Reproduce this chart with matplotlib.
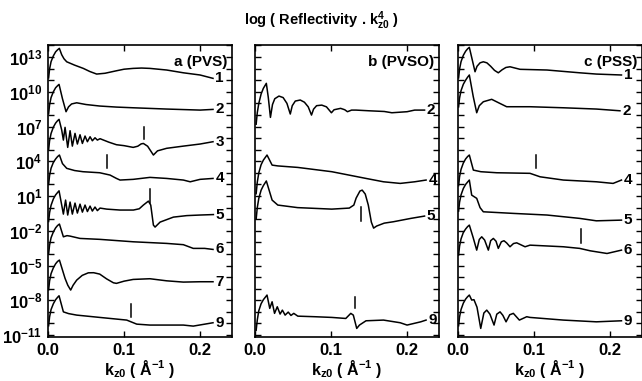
import numpy as np
import matplotlib.pyplot as plt
from matplotlib.ticker import FixedLocator, FuncFormatter

plt.rcParams["font.family"] = ["Liberation Sans", "DejaVu Sans"]
plt.rcParams["font.weight"] = "bold"
plt.rcParams["mathtext.fontset"] = "custom"
plt.rcParams["mathtext.rm"] = "Liberation Sans:bold"
plt.rcParams["mathtext.bf"] = "Liberation Sans:bold"
plt.rcParams["mathtext.it"] = "Liberation Sans:bold"
plt.rcParams["mathtext.default"] = "bf"

# curves: k_z0 (1/A) and log10(R.k^4) incl. vertical offsets
# ---- panel a (PVS)
a1_k = [0.0008, 0.002, 0.004, 0.007, 0.010, 0.0125, 0.0149, 0.018, 0.021, 0.0246, 0.035, 0.0464, 0.055,
        0.064, 0.075, 0.0904, 0.1, 0.112, 0.123, 0.134, 0.156, 0.178, 0.2, 0.217]
a1_y = [11.2, 11.95, 12.6, 13.1, 13.45, 13.62, 13.75, 13.2, 12.85, 12.59, 12.3, 12.02, 11.75,
        11.53, 11.6, 11.82, 11.95, 12.02, 12.05, 12.02, 11.88, 11.64, 11.45, 11.16]
a2_k = [0.0008, 0.002, 0.004, 0.007, 0.010, 0.0125, 0.0145, 0.019, 0.0237, 0.027, 0.031, 0.0377, 0.05,
        0.068, 0.09, 0.112, 0.156, 0.2, 0.217]
a2_y = [8.1, 8.85, 9.5, 10.0, 10.35, 10.52, 10.64, 9.4, 8.28, 8.7, 8.95, 9.05, 8.9,
        8.77, 8.68, 8.62, 8.51, 8.42, 8.48]
a3_k = [0.0008, 0.002, 0.004, 0.007, 0.010, 0.0125, 0.0145, 0.018, 0.0202, 0.0224, 0.0259, 0.029, 0.032,
        0.0355, 0.0386, 0.0421, 0.0452, 0.0487, 0.0518, 0.0553, 0.0583, 0.0618, 0.0649, 0.0684, 0.08,
        0.09, 0.1, 0.112, 0.118, 0.1225, 0.1254, 0.131, 0.1386, 0.144, 0.156, 0.178, 0.2, 0.217]
a3_y = [5.0, 5.75, 6.4, 6.95, 7.3, 7.5, 7.62, 6.70, 5.83, 6.93, 5.20, 6.64, 5.31,
        6.41, 5.49, 6.29, 5.54, 6.18, 5.69, 6.12, 5.77, 6.03, 5.83, 5.95, 5.65,
        5.43, 5.35, 5.2, 5.3, 5.5, 5.54, 5.3, 4.54, 4.9, 5.12, 5.31, 5.49, 5.69]
a4_k = [0.0008, 0.002, 0.004, 0.007, 0.010, 0.0125, 0.015, 0.019, 0.0246, 0.035, 0.046, 0.068, 0.0816,
        0.09, 0.0947, 0.112, 0.134, 0.156, 0.178, 0.187, 0.2, 0.217]
a4_y = [2.0, 2.75, 3.4, 3.9, 4.2, 4.4, 4.54, 3.8, 3.39, 3.2, 3.10, 3.01, 2.81,
        2.52, 2.38, 2.44, 2.61, 2.52, 2.38, 2.23, 2.44, 2.52]
a5_k = [0.0008, 0.002, 0.004, 0.007, 0.010, 0.0125, 0.0145, 0.018, 0.0202, 0.0231, 0.0259, 0.029, 0.032,
        0.0355, 0.0386, 0.0421, 0.0452, 0.0487, 0.0518, 0.0553, 0.0583, 0.0618, 0.0649, 0.0684, 0.0772,
        0.0947, 0.1123, 0.12, 0.1254, 0.132, 0.1351, 0.1386, 0.1408, 0.1474, 0.1649, 0.1825, 0.2, 0.2175]
a5_y = [-1.2, -0.45, 0.2, 0.75, 1.1, 1.3, 1.45, 0.22, -0.56, 0.65, -0.64, 0.48, -0.56,
        0.39, -0.47, 0.30, -0.39, 0.22, -0.34, 0.13, -0.30, 0.05, -0.26, -0.04, -0.13,
        -0.21, -0.21, -0.1, 0.22, 0.56, 0.22, -1.51, -1.68, -1.25, -0.82, -0.69, -0.64, -0.60]
a6_k = [0.0008, 0.002, 0.004, 0.007, 0.010, 0.0125, 0.015, 0.0202, 0.025, 0.029, 0.042, 0.068, 0.112,
        0.156, 0.178, 0.191, 0.206, 0.217]
a6_y = [-4.0, -3.25, -2.6, -2.1, -1.75, -1.55, -1.42, -2.52, -2.42, -2.46, -2.66, -2.74, -2.95,
        -3.09, -3.2, -3.52, -3.52, -3.61]
a7_k = [0.0008, 0.002, 0.004, 0.007, 0.010, 0.0125, 0.015, 0.0224, 0.026, 0.0298, 0.033, 0.0377, 0.045,
        0.053, 0.06, 0.068, 0.077, 0.086, 0.09, 0.1, 0.112, 0.134, 0.156, 0.178, 0.2, 0.217]
a7_y = [-7.1, -6.35, -5.7, -5.2, -4.85, -4.65, -4.53, -6.11, -6.7, -7.12, -6.7, -6.26, -5.85,
        -5.63, -5.62, -5.74, -6.15, -6.49, -6.54, -6.35, -6.20, -6.14, -6.32, -6.43, -6.40, -6.40]
a9_k = [0.0008, 0.002, 0.004, 0.007, 0.010, 0.0125, 0.0145, 0.0202, 0.027, 0.0377, 0.068, 0.1035, 0.1167,
        0.134, 0.178, 0.191, 0.217]
a9_y = [-10.2, -9.45, -8.8, -8.3, -7.95, -7.75, -7.61, -9.0, -9.15, -9.28, -9.48, -9.71, -10.06,
        -10.14, -10.14, -10.23, -9.94]

# ---- panel b (PVSO)
b2_k = [0.0015, 0.003, 0.005, 0.008, 0.011, 0.0149, 0.0175, 0.0203, 0.023, 0.026, 0.0315, 0.037, 0.042,
        0.0464, 0.049, 0.053, 0.0595, 0.065, 0.07, 0.0743, 0.077, 0.081, 0.0878, 0.094, 0.1005, 0.104,
        0.1126, 0.118, 0.1216, 0.127, 0.1329, 0.15, 0.17, 0.18, 0.2, 0.21, 0.223]
b2_y = [7.2, 8.2, 9.0, 9.8, 10.3, 10.73, 9.5, 7.79, 8.9, 9.4, 9.63, 9.5, 9.0,
        8.08, 8.8, 9.2, 9.29, 9.1, 8.7, 7.99, 8.5, 8.8, 8.85, 8.7, 8.19, 8.45,
        8.57, 8.45, 8.28, 8.42, 8.42, 8.36, 8.3, 8.19, 8.28, 8.42, 8.42]
b4_k = [0.0015, 0.003, 0.005, 0.008, 0.011, 0.0158, 0.0225, 0.03, 0.0563, 0.101, 0.146, 0.169, 0.191,
        0.21, 0.225]
b4_y = [1.2, 2.2, 3.0, 3.7, 4.1, 4.54, 3.67, 3.6, 3.47, 3.10, 2.52, 2.23, 2.09,
        2.23, 2.38]
b5_k = [0.0015, 0.003, 0.005, 0.008, 0.011, 0.0149, 0.0225, 0.03, 0.056, 0.101, 0.124, 0.13, 0.133,
        0.138, 0.141, 0.145, 0.149, 0.153, 0.156, 0.16, 0.17, 0.182, 0.205, 0.223]
b5_y = [-1.0, 0.0, 0.8, 1.5, 1.9, 2.3, 0.65, 0.22, 0.0, -0.13, -0.04, 0.22, 0.82,
        1.43, 1.51, 1.17, 0.22, -1.25, -1.77, -1.59, -1.34, -1.22, -0.93, -0.73]
b9_k = [0.0015, 0.003, 0.005, 0.008, 0.011, 0.0158, 0.0194, 0.0225, 0.0257, 0.0293, 0.033, 0.036, 0.0396,
        0.0437, 0.0473, 0.051, 0.0563, 0.0788, 0.101, 0.1194, 0.126, 0.1293, 0.1338, 0.1374, 0.146,
        0.169, 0.191, 0.2, 0.218, 0.225]
b9_y = [-10.6, -9.7, -8.9, -8.3, -7.95, -7.55, -8.70, -8.13, -9.13, -8.56, -9.19, -8.85, -9.28,
        -9.02, -9.31, -9.13, -9.37, -9.42, -9.48, -9.57, -9.13, -9.28, -10.43, -10.14, -9.77,
        -9.71, -9.94, -10.14, -9.86, -9.71]

# ---- panel c (PSS)
c1_k = [0.0008, 0.002, 0.004, 0.007, 0.010, 0.0125, 0.0149, 0.0224, 0.025, 0.029, 0.0333, 0.038, 0.043,
        0.048, 0.053, 0.058, 0.063, 0.0684, 0.075, 0.0816, 0.117, 0.16, 0.182, 0.215]
c1_y = [11.2, 11.95, 12.6, 13.15, 13.5, 13.7, 13.84, 11.73, 12.2, 12.5, 12.59, 12.5, 12.2,
        11.85, 11.64, 11.9, 12.1, 12.16, 12.05, 11.94, 11.88, 11.64, 11.53, 11.45]
c2_k = [0.0008, 0.002, 0.004, 0.007, 0.010, 0.0125, 0.0149, 0.02, 0.0246, 0.028, 0.0333, 0.0443, 0.055,
        0.064, 0.0947, 0.1386, 0.182, 0.213]
c2_y = [8.7, 9.45, 10.1, 10.65, 11.0, 11.25, 11.45, 9.6, 8.19, 8.8, 9.14, 9.35, 9.0,
        8.71, 8.71, 8.62, 8.51, 8.36]
c4_k = [0.0008, 0.002, 0.004, 0.007, 0.010, 0.0125, 0.0149, 0.0202, 0.03, 0.051, 0.0947, 0.108, 0.1386,
        0.182, 0.204, 0.215]
c4_y = [1.9, 2.65, 3.3, 3.85, 4.2, 4.4, 4.54, 3.24, 3.1, 3.01, 2.96, 2.66, 2.38,
        2.23, 2.09, 2.38]
c5_k = [0.0008, 0.002, 0.004, 0.007, 0.010, 0.0125, 0.0149, 0.018, 0.0246, 0.029, 0.0333, 0.073, 0.117,
        0.16, 0.182, 0.215]
c5_y = [-0.3, 0.45, 1.1, 1.65, 2.0, 2.2, 2.38, 1.08, 0.80, 0.0, -0.36, -0.50, -0.64,
        -0.93, -1.14, -1.08]
c6_k = [0.0008, 0.002, 0.004, 0.007, 0.010, 0.0125, 0.0149, 0.02, 0.0246, 0.028, 0.0312, 0.035, 0.0399,
        0.043, 0.0465, 0.05, 0.053, 0.057, 0.0605, 0.064, 0.0684, 0.073, 0.0772, 0.0882, 0.0947, 0.1386,
        0.16, 0.174, 0.196, 0.215]
c6_y = [-4.1, -3.35, -2.7, -2.15, -1.85, -1.65, -1.51, -2.6, -3.67, -2.75, -2.52, -2.8, -3.67,
        -2.85, -2.66, -2.9, -3.52, -2.95, -2.86, -3.05, -3.38, -3.1, -3.04, -3.38, -3.24, -3.38,
        -3.52, -3.73, -3.96, -3.67]
c9_k = [0.0008, 0.002, 0.004, 0.007, 0.010, 0.0125, 0.0149, 0.018, 0.021, 0.025, 0.0299, 0.034, 0.0378,
        0.042, 0.0474, 0.051, 0.0553, 0.059, 0.0632, 0.068, 0.0728, 0.0807, 0.0904, 0.0947, 0.1386,
        0.182, 0.215]
c9_y = [-10.2, -9.45, -8.8, -8.25, -7.9, -7.7, -7.55, -7.98, -7.95, -8.6, -10.43, -9.1, -8.85,
        -9.2, -10.14, -9.2, -9.0, -9.3, -9.86, -9.25, -9.13, -9.71, -9.42, -9.48, -9.71,
        -9.86, -9.77]

# short vertical markers: k position, log top, log bottom
a_mark_k = [0.1267, 0.078, 0.1338, 0.1088]
a_mark_top = [7.0, 4.54, 1.57, -8.33]
a_mark_bot = [5.9, 3.44, 0.42, -9.48]
b_mark_k = [0.140, 0.132]
b_mark_top = [0.07, -7.70]
b_mark_bot = [-1.14, -8.70]
c_mark_k = [0.1026, 0.1614]
c_mark_top = [4.54, -1.88]
c_mark_bot = [3.39, -3.04]

panel_titles = ["a (PVS)", "b (PVSO)", "c (PSS)"]
panel_curves = [
    [("1", a1_k, a1_y), ("2", a2_k, a2_y), ("3", a3_k, a3_y), ("4", a4_k, a4_y),
     ("5", a5_k, a5_y), ("6", a6_k, a6_y), ("7", a7_k, a7_y), ("9", a9_k, a9_y)],
    [("2", b2_k, b2_y), ("4", b4_k, b4_y), ("5", b5_k, b5_y), ("9", b9_k, b9_y)],
    [("1", c1_k, c1_y), ("2", c2_k, c2_y), ("4", c4_k, c4_y), ("5", c5_k, c5_y),
     ("6", c6_k, c6_y), ("9", c9_k, c9_y)],
]
panel_marks = [(a_mark_k, a_mark_top, a_mark_bot), (b_mark_k, b_mark_top, b_mark_bot),
               (c_mark_k, c_mark_top, c_mark_bot)]

fig = plt.figure(figsize=(6.42, 3.81), dpi=100)
lefts = [0.0748, 0.3972, 0.7134]
decades = np.arange(-11, 15)


def ylab(v, pos):
    e = int(round(np.log10(v)))
    if e % 3 == 1:
        return r"$10^{%d}$" % e
    return ""


for i in range(3):
    ax = fig.add_axes([lefts[i], 0.1155, 0.2866, 0.7664])
    for name, k, y in panel_curves[i]:
        ax.plot(k, 10.0 ** np.array(y), color="black", lw=1.1)
        ax.text(k[-1] + 0.003, 10.0 ** y[-1], name, fontsize=11, fontweight="bold",
                ha="left", va="center")
    mk, mt, mb = panel_marks[i]
    for x, t, b in zip(mk, mt, mb):
        ax.plot([x, x], [10.0 ** b, 10.0 ** t], color="black", lw=1.1)
    ax.set_yscale("log")
    ax.set_xlim(0, 0.242)
    ax.set_ylim(10 ** -11.17, 10 ** 14.04)
    ax.yaxis.set_major_locator(FixedLocator(10.0 ** decades))
    ax.yaxis.set_minor_locator(FixedLocator([]))
    ax.set_xticks([0.0, 0.1, 0.2])
    ax.set_xticklabels(["0.0", "0.1", "0.2"])
    ax.tick_params(direction="in", length=4, width=1, top=True, right=True,
                   labelsize=12, pad=4)
    if i == 0:
        ax.yaxis.set_major_formatter(FuncFormatter(ylab))
    else:
        ax.set_yticklabels([])
    for s in ax.spines.values():
        s.set_linewidth(1.2)
    ax.set_xlabel(r"k$_{z0}$ ( Å$^{-1}$ )", fontsize=11.5, fontweight="bold", labelpad=0)
    ax.text(0.975, 0.965, panel_titles[i], transform=ax.transAxes, ha="right", va="top",
            fontsize=11, fontweight="bold")

fig.text(0.5, 0.945, r"log ( Reflectivity . k$^{4}_{z0}$ )", ha="center", va="center",
         fontsize=10.5, fontweight="bold")

plt.savefig("out.png", dpi=100)
